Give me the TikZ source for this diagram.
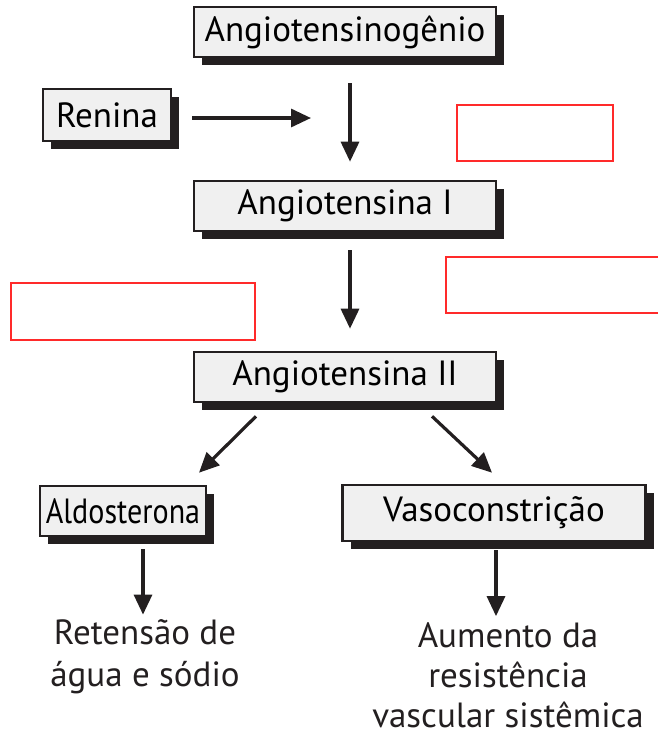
\documentclass[tikz,border=0pt]{standalone}
\usepackage{fontspec}
\setmainfont{PT Sans}
\newfontfamily\narrowfont[FakeStretch=0.86]{PT Sans}
\usetikzlibrary{positioning,arrows.meta,calc,shadows}
\definecolor{boxgray}{HTML}{F0F0F0}
\definecolor{boxline}{HTML}{231F20}
\definecolor{markred}{HTML}{FF2A2A}
\newcommand{\bodyfont}{\fontsize{35}{42}\selectfont}

\begin{document}
\begin{tikzpicture}[x=1pt, y=-1pt,
  stage/.style={draw=boxline, fill=boxgray, line width=2.6pt, inner sep=0pt,
    minimum height=50pt, font=\bodyfont,
    drop shadow={shadow xshift=8pt, shadow yshift=-8pt, fill=boxline, opacity=1}},
  result/.style={align=center, font=\bodyfont, text=boxline, inner sep=0pt},
  flow/.style={draw=boxline, line width=3.2pt, -{Triangle[length=20pt,width=18pt]}},
  gap/.style={draw=markred, line width=1.4pt}]
 \useasboundingbox (0,0) rectangle (657,736);
 % cascade
 \node[stage, minimum width=302pt] (agen) at (345,32) {Angiotensinogênio};
 \node[stage, minimum width=128pt, minimum height=52pt] (ren) at (107,115) {Renina};
 \node[stage, minimum width=302pt] (ang1) at (345,206) {Angiotensina I};
 \node[stage, minimum width=302pt] (ang2) at (345,377) {Angiotensina II};
 \node[stage, minimum width=166pt, font={\narrowfont\bodyfont}] (aldo) at (123,511) {Aldosterona};
 \node[stage, minimum width=303pt, minimum height=56pt] (vaso) at (494,513) {Vasoconstrição};
 \node[result] (ret) at (145,657) {Retensão de\\água e sódio};
 \node[result, font=\fontsize{35}{40}\selectfont] (resist) at (508,675) {Aumento da\\resistência\\vascular sistêmica};
 \coordinate (renin join) at (311,118);
 % arrows
 \draw[flow] ([xshift=20pt]ren.east |- renin join) -- (renin join);
 \draw[flow, shorten <=25pt, shorten >=18pt] ($(agen.south)+(5,0)$) -- ($(ang1.north)+(5,0)$);
 \draw[flow, shorten <=18pt, shorten >=22pt] ($(ang1.south)+(5,0)$) -- ($(ang2.north)+(5,0)$);
 \draw[flow] ($(ang2.south)+(-89,13)$) -- ($(aldo.north)+(76,-12)$);
 \draw[flow] ($(ang2.south)+(87,13)$) -- ($(vaso.north)+(-2,-11)$);
 \draw[flow, shorten <=12pt] ($(aldo.south)+(20,0)$) -- ($(ret.north)+(-2,-5)$);
 \draw[flow, shorten <=8pt] ($(vaso.south)+(2,0)$) -- ($(resist.north)+(-12,-6)$);
 % empty red frames
 \draw[gap] (457,105) rectangle (613,161);
 \draw[gap] (446,257) rectangle (670,313);
 \draw[gap] (11,283) rectangle (255,340);
\end{tikzpicture}
\end{document}
